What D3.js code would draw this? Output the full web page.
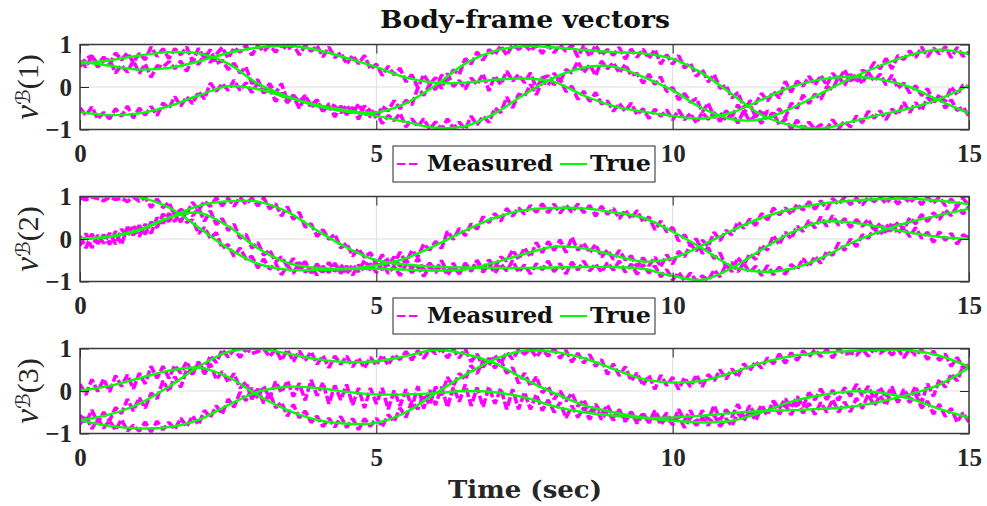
<!DOCTYPE html>
<html><head><meta charset="utf-8">
<script src="https://cdn.jsdelivr.net/npm/d3@7"></script>
<style>body{margin:0;background:#fff;} svg{display:block}</style>
</head><body>
<svg id="c" width="987" height="506"></svg>
<script>
// ---------------- data ----------------
const title = "Body-frame vectors";
const xLabel = "Time (sec)";
const yLabelIdx = ["(1)", "(2)", "(3)"];
const xTicks = [0, 5, 10, 15];
const yTicks = [-1, 0, 1];
const legendLabels = ["Measured", "True"];

// time of the smooth "True" samples (s)
const trueTime = [0,0.5,1,1.5,2,2.5,3,3.5,4,4.5,5,5.5,6,6.5,7,7.5,8,8.5,9,9.5,10,10.5,11,11.5,12,12.5,13,13.5,14,14.5,15];
// measured samples every 0.1 s from 0 to 15
const measTime = d3.range(151).map(i => i / 10);

// True, v^B(1)
const true1a = [.55,.63,.74,.82,.79,.55,.08,-.22,-.45,-.58,-.68,-.82,-.96,-.92,-.62,-.17,.22,.46,.48,.24,-.08,-.5,-.76,-.76,-.5,-.15,.2,.5,.75,.88,.77];
const true1b = [.6,.5,.41,.45,.6,.8,.93,.97,.87,.68,.47,.22,.1,.1,.17,.2,.12,-.2,-.45,-.58,-.68,-.74,-.6,-.3,0,.18,.24,.18,0,-.32,-.62];
const true1c = [-.59,-.66,-.62,-.45,-.2,.02,-.05,-.25,-.42,-.55,-.6,-.38,.04,.55,.85,.96,.93,.87,.82,.79,.66,.32,-.17,-.66,-.9,-.98,-.82,-.65,-.5,-.28,.04];
// True, v^B(2)
const true2a = [1,1,.98,.74,.27,-.22,-.58,-.72,-.73,-.71,-.7,-.72,-.74,-.72,-.55,-.35,-.18,-.22,-.38,-.53,-.45,-.15,.2,.5,.7,.83,.9,.94,.95,.9,.82];
const true2b = [.02,.05,.2,.5,.78,.89,.88,.64,.2,-.2,-.5,-.6,-.65,-.67,-.68,-.68,-.67,-.66,-.66,-.7,-.87,-.96,-.68,-.25,.15,.4,.39,.28,.15,.05,0];
const true2c = [0,.06,.22,.5,.62,.3,-.22,-.56,-.68,-.7,-.62,-.45,-.15,.2,.5,.68,.73,.72,.63,.5,.17,-.22,-.64,-.77,-.7,-.45,-.1,.18,.4,.56,.71];
// True, v^B(3)
const true3a = [-.69,-.55,-.3,.1,.57,.92,.99,.88,.75,.68,.7,.82,.97,.87,.65,.28,-.05,-.33,-.5,-.63,-.7,-.74,-.7,-.5,-.25,-.1,-.01,-.04,-.18,-.42,-.63];
const true3b = [.01,.12,.3,.48,.55,.33,-.1,-.45,-.68,-.77,-.75,-.5,-.05,.38,.75,.95,.92,.77,.52,.28,.2,.24,.43,.66,.82,.9,.94,.97,.96,.83,.57];
const true3c = [-.69,-.82,-.88,-.85,-.68,-.33,-.02,.1,.07,-.02,-.08,-.08,-.05,0,-.03,-.15,-.36,-.5,-.58,-.63,-.62,-.58,-.52,-.47,-.45,-.42,-.37,-.25,-.08,.15,.55];

// Measured, v^B(1)
const meas1a = [.62,.47,.72,.55,.70,.54,.80,.64,.80,.58,.79,.64,.94,.72,.90,.67,.90,.76,.94,.60,.91,.67,.88,.55,.63,.41,.56,.33,.47,.08,.17,-.13,.08,-.15,.08,-.32,-.20,-.50,-.22,-.43,-.30,-.57,-.45,-.70,-.45,-.65,-.48,-.76,-.44,-.71,-.59,-.86,-.67,-.79,-.62,-.94,-.75,-.93,-.75,-.99,-.82,-.99,-.75,-.97,-.83,-.99,-.69,-.89,-.69,-.83,-.50,-.60,-.24,-.49,-.17,-.22,.06,-.18,.13,.04,.32,.13,.41,.33,.60,.34,.53,.27,.61,.43,.57,.33,.53,.27,.32,.09,.30,.06,.24,-.11,-.01,-.30,-.15,-.36,-.27,-.59,-.38,-.72,-.61,-.78,-.62,-.85,-.56,-.81,-.66,-.86,-.56,-.69,-.51,-.72,-.38,-.50,-.19,-.39,-.17,-.29,.01,-.06,.25,.04,.30,.11,.39,.35,.58,.43,.67,.43,.74,.65,.85,.69,.94,.71,.92,.78,.95,.69,.93,.72,.82];
const meas1b = [.48,.67,.73,.47,.62,.64,.33,.51,.35,.62,.32,.54,.23,.50,.47,.60,.43,.61,.37,.66,.53,.78,.58,.77,.93,.68,.92,.82,.98,.75,.97,.84,.98,.82,.99,.88,.99,.76,.98,.84,.97,.71,.94,.69,.81,.54,.74,.55,.74,.42,.54,.27,.49,.29,.44,.12,.29,-.02,.29,.07,.22,-.04,.32,.01,.15,-.05,.21,.06,.31,-.09,.26,.06,.37,.14,.29,.10,.33,-.03,.22,.26,.05,.20,-.11,.02,-.29,-.10,-.34,-.13,-.40,-.33,-.57,-.39,-.57,-.38,-.65,-.51,-.74,-.52,-.69,-.54,-.77,-.54,-.77,-.62,-.85,-.60,-.76,-.60,-.81,-.56,-.70,-.42,-.65,-.33,-.39,-.15,-.33,-.11,-.26,.13,-.12,.14,.02,.25,.05,.27,.04,.32,.15,.40,.14,.30,.08,.35,.14,.30,.05,.28,-.03,.09,-.14,.03,-.20,-.04,-.35,-.22,-.50,-.30,-.55,-.47,-.69];
const meas1c = [-.49,-.67,-.47,-.75,-.60,-.75,-.51,-.69,-.45,-.73,-.50,-.66,-.46,-.67,-.38,-.50,-.23,-.45,-.23,-.39,-.11,-.28,.09,-.10,.08,-.08,.16,-.08,.10,-.13,.09,-.14,-.03,-.34,-.14,-.37,-.19,-.35,-.20,-.49,-.32,-.59,-.40,-.45,-.61,-.43,-.63,-.40,-.68,-.50,-.74,-.46,-.56,-.32,-.51,-.31,-.42,-.02,-.20,.06,-.06,.28,.15,.40,.30,.67,.54,.82,.63,.88,.76,.97,.75,.99,.89,.99,.85,.98,.79,.99,.81,.99,.84,.99,.71,.97,.72,.98,.75,.88,.75,.93,.66,.89,.70,.89,.67,.88,.54,.76,.54,.74,.45,.56,.25,.41,.12,.29,-.03,.04,-.26,-.13,-.47,-.39,-.71,-.54,-.78,-.61,-.89,-.75,-.98,-.78,-.99,-.83,-.99,-.89,-.99,-.77,-.97,-.81,-.94,-.68,-.84,-.57,-.73,-.56,-.77,-.52,-.65,-.36,-.60,-.37,-.55,-.25,-.39,-.18,-.34,.00,-.18,.05,-.01];
// Measured, v^B(2)
const meas2a = [.97,.92,.99,.95,.90,.98,.93,.96,.88,.99,.89,.98,.74,.94,.74,.86,.55,.70,.39,.45,.13,.27,.02,.15,-.22,-.13,-.41,-.21,-.47,-.41,-.68,-.47,-.71,-.57,-.84,-.62,-.81,-.55,-.78,-.66,-.85,-.64,-.79,-.57,-.81,-.64,-.85,-.61,-.75,-.58,-.79,-.55,-.81,-.64,-.86,-.60,-.79,-.64,-.88,-.64,-.79,-.60,-.85,-.66,-.81,-.62,-.76,-.50,-.72,-.49,-.67,-.42,-.52,-.26,-.48,-.21,-.42,-.08,-.32,-.06,-.27,-.02,-.32,.04,-.26,-.10,-.32,-.13,-.42,-.26,-.48,-.27,-.49,-.40,-.65,-.44,-.63,-.43,-.65,-.37,-.59,-.29,-.42,-.12,-.28,-.03,-.17,.16,-.04,.20,.10,.40,.25,.47,.32,.60,.45,.73,.57,.73,.58,.82,.68,.88,.70,.90,.70,.95,.82,.98,.81,.96,.80,.98,.88,.98,.84,.99,.82,.98,.86,.98,.81,.99,.84,.99,.78,.94,.76,.96,.77];
const meas2b = [-.15,.13,-.21,.09,-.10,.14,-.12,.23,.07,.32,.06,.35,.13,.50,.37,.60,.41,.70,.60,.86,.68,.89,.77,.97,.78,.96,.77,.98,.82,.96,.78,.97,.71,.83,.54,.76,.46,.63,.28,.36,.06,.22,-.01,.11,-.21,-.10,-.40,-.23,-.43,-.32,-.60,-.37,-.63,-.42,-.65,-.48,-.70,-.45,-.73,-.57,-.74,-.51,-.78,-.57,-.82,-.57,-.74,-.52,-.78,-.59,-.80,-.59,-.75,-.51,-.78,-.61,-.82,-.58,-.72,-.52,-.77,-.58,-.82,-.54,-.73,-.52,-.75,-.59,-.78,-.56,-.73,-.52,-.78,-.59,-.83,-.60,-.80,-.63,-.89,-.72,-.96,-.79,-.98,-.80,-.99,-.87,-.97,-.73,-.89,-.60,-.77,-.44,-.61,-.35,-.48,-.15,-.26,.08,-.13,.16,.01,.30,.18,.44,.26,.52,.30,.55,.32,.48,.27,.46,.30,.46,.20,.37,.13,.38,.13,.28,.05,.27,.02,.16,-.08,.17,-.03,.13,-.12,.10,.03];
const meas2c = [.07,-.21,.12,-.11,.10,-.13,.18,-.13,.28,.09,.32,.11,.40,.27,.59,.41,.64,.40,.66,.55,.72,.42,.66,.34,.48,.20,.35,.02,.11,-.21,-.08,-.38,-.26,-.54,-.42,-.65,-.46,-.68,-.53,-.80,-.59,-.78,-.55,-.76,-.60,-.82,-.61,-.77,-.50,-.73,-.52,-.73,-.46,-.59,-.31,-.55,-.27,-.42,-.12,-.26,-.06,-.22,.18,-.01,.25,.08,.36,.23,.52,.39,.60,.42,.72,.54,.73,.59,.79,.63,.83,.62,.82,.61,.80,.63,.82,.62,.79,.54,.77,.58,.72,.48,.68,.48,.67,.40,.52,.22,.42,.17,.27,-.05,.10,-.15,.01,-.34,-.20,-.46,-.33,-.65,-.55,-.77,-.57,-.79,-.64,-.86,-.62,-.84,-.66,-.83,-.60,-.72,-.46,-.65,-.41,-.57,-.29,-.38,-.09,-.27,.00,-.18,.10,.02,.24,.09,.34,.17,.40,.22,.50,.36,.58,.41,.62,.46,.68,.55,.77,.59,.76];
// Measured, v^B(3)
const meas3a = [-.57,-.75,-.45,-.75,-.50,-.70,-.39,-.53,-.19,-.47,-.16,-.40,-.05,-.18,.24,-.01,.34,.09,.50,.40,.66,.47,.83,.67,.97,.80,.98,.79,.99,.88,.93,.99,.81,.98,.72,.97,.70,.94,.72,.92,.63,.83,.55,.82,.63,.82,.57,.77,.54,.79,.61,.84,.61,.85,.74,.93,.73,.95,.77,.99,.88,.99,.78,.98,.78,.99,.69,.87,.56,.77,.54,.73,.42,.55,.18,.42,.12,.33,-.04,.10,-.19,.00,-.24,-.05,-.36,-.21,-.51,-.31,-.54,-.33,-.62,-.44,-.72,-.50,-.71,-.52,-.73,-.52,-.79,-.61,-.79,-.59,-.86,-.63,-.81,-.63,-.81,-.57,-.83,-.65,-.82,-.52,-.70,-.47,-.69,-.41,-.56,-.23,-.41,-.18,-.39,-.13,-.37,-.04,-.21,.05,-.20,.02,-.22,.08,-.12,.16,-.11,.11,-.18,.08,-.15,.10,-.26,-.06,-.27,-.08,-.40,-.24,-.54,-.31,-.60,-.41,-.73,-.51,-.73];
const meas3b = [.16,-.09,.27,-.01,.28,-.02,.36,.11,.38,.05,.42,.17,.58,.30,.58,.30,.60,.42,.69,.40,.69,.40,.64,.27,.46,.21,.41,.07,.21,-.19,.05,-.29,-.04,-.39,-.27,-.59,-.32,-.63,-.47,-.74,-.59,-.84,-.64,-.85,-.60,-.86,-.65,-.91,-.65,-.83,-.64,-.84,-.56,-.72,-.40,-.62,-.24,-.43,-.09,-.32,.10,-.10,.32,.12,.41,.27,.60,.41,.71,.60,.84,.65,.91,.75,.97,.87,.99,.80,.98,.82,.99,.77,.96,.68,.89,.66,.86,.58,.74,.39,.64,.36,.57,.24,.42,.13,.37,.04,.37,.13,.32,.04,.31,.10,.38,.10,.39,.24,.50,.28,.52,.33,.64,.48,.69,.54,.78,.64,.87,.65,.90,.72,.94,.80,.97,.81,.98,.78,.99,.86,.90,.84,.99,.82,.99,.89,.99,.85,.99,.78,.99,.84,.97,.74,.94,.72,.87,.58,.79,.54,.63];
const meas3c = [-.78,-.58,-.89,-.66,-.87,-.70,-.92,-.67,-.94,-.81,-.94,-.73,-.96,-.71,-.91,-.74,-.90,-.64,-.84,-.59,-.79,-.46,-.62,-.35,-.54,-.19,-.38,-.03,-.23,.07,-.17,.12,-.18,.22,-.03,.24,-.13,.18,-.22,.26,-.11,.20,-.30,.13,-.21,.15,-.33,.07,-.40,.07,-.30,.07,-.43,.01,-.35,.04,-.40,.11,-.41,.02,-.33,.10,-.38,.09,-.25,.15,-.35,.08,-.37,.10,-.30,.06,-.43,.04,-.43,-.03,-.43,-.08,-.46,-.21,-.50,-.27,-.63,-.35,-.62,-.39,-.67,-.39,-.67,-.47,-.69,-.44,-.68,-.49,-.76,-.54,-.75,-.46,-.71,-.52,-.76,-.43,-.69,-.46,-.76,-.46,-.68,-.34,-.68,-.44,-.61,-.31,-.62,-.34,-.59,-.33,-.56,-.25,-.54,-.33,-.56,-.27,-.52,-.29,-.55,-.27,-.50,-.20,-.50,-.26,-.49,-.17,-.41,-.08,-.35,-.11,-.33,.02,-.27,.04,-.17,.11,-.27,.17,-.12,.27,.09,.40,.24,.58,.52];

// ---------------- drawing ----------------
const svg = d3.select("#c");
svg.append("rect").attr("width", 987).attr("height", 506).attr("fill", "#fff");

const plotLeft = 80, plotRight = 969, plotH = 85;
const tops = [44.5, 196.5, 348.5];
const x = d3.scaleLinear().domain([0, 15]).range([plotLeft, plotRight]);

const panels = [
  {top: tops[0], trueS: [true1a, true1b, true1c], measS: [meas1a, meas1b, meas1c], idx: yLabelIdx[0], legend: true},
  {top: tops[1], trueS: [true2a, true2b, true2c], measS: [meas2a, meas2b, meas2c], idx: yLabelIdx[1], legend: true},
  {top: tops[2], trueS: [true3a, true3b, true3c], measS: [meas3a, meas3b, meas3c], idx: yLabelIdx[2], legend: false}
];

const MAG = "#ff00ff", GRN = "#00ff00", AX = "#262626";
const tickFont = "'Liberation Serif', 'Times New Roman', serif";
const boldSerif = "'DejaVu Serif', serif";

panels.forEach((p, k) => {
  const y = d3.scaleLinear().domain([-1, 1]).range([p.top + plotH, p.top]);
  const g = svg.append("g");

  // grid
  g.append("g").selectAll("line").data(xTicks.filter(t => t > 0 && t < 15)).join("line")
    .attr("x1", d => x(d)).attr("x2", d => x(d)).attr("y1", p.top).attr("y2", p.top + plotH)
    .attr("stroke", "#dedede").attr("stroke-width", 1);
  g.append("g").selectAll("line").data(yTicks.filter(t => t === 0)).join("line")
    .attr("x1", plotLeft).attr("x2", plotRight).attr("y1", d => y(d)).attr("y2", d => y(d))
    .attr("stroke", "#dedede").attr("stroke-width", 1);

  // clip
  const cid = "clip" + k;
  svg.append("clipPath").attr("id", cid).append("rect")
    .attr("x", plotLeft).attr("y", p.top).attr("width", plotRight - plotLeft).attr("height", plotH);
  const data = g.append("g").attr("clip-path", `url(#${cid})`);

  const measLine = d3.line().x(d => x(d[0])).y(d => y(d[1]));
  p.measS.forEach(arr => {
    data.append("path").datum(measTime.map((t, i) => [t, arr[i]]).filter(d => d[1] !== undefined))
      .attr("d", measLine).attr("fill", "none").attr("stroke", MAG)
      .attr("stroke-width", 3.6).attr("stroke-dasharray", "9,2.5")
      .attr("stroke-linejoin", "bevel").attr("stroke-linecap", "butt");
  });
  const trueLine = d3.line().x(d => x(d[0])).y(d => y(d[1])).curve(d3.curveCatmullRom.alpha(0.5));
  p.trueS.forEach(arr => {
    data.append("path").datum(trueTime.map((t, i) => [t, arr[i]]))
      .attr("d", trueLine).attr("fill", "none").attr("stroke", GRN).attr("stroke-width", 2.4);
  });

  // axes
  const axB = g.append("g").attr("transform", `translate(0,${p.top + plotH})`)
    .call(d3.axisBottom(x).tickValues(xTicks).tickSizeInner(-9).tickSizeOuter(0).tickPadding(15).tickFormat(d3.format("d")));
  const axT = g.append("g").attr("transform", `translate(0,${p.top})`)
    .call(d3.axisTop(x).tickValues(xTicks).tickSizeInner(-9).tickSizeOuter(0).tickFormat(""));
  const axL = g.append("g").attr("transform", `translate(${plotLeft},0)`)
    .call(d3.axisLeft(y).tickValues(yTicks).tickSizeInner(-9).tickSizeOuter(0).tickPadding(8).tickFormat(d3.format("d")));
  const axR = g.append("g").attr("transform", `translate(${plotRight},0)`)
    .call(d3.axisRight(y).tickValues(yTicks).tickSizeInner(-9).tickSizeOuter(0).tickFormat(""));
  [axB, axT, axL, axR].forEach(a => {
    a.select(".domain").remove();
    a.selectAll(".tick line").attr("stroke", AX).attr("stroke-width", 1);
    a.selectAll("text").attr("font-family", tickFont).attr("font-weight", "bold")
      .attr("font-size", 25).attr("fill", AX);
  });

  // box
  g.append("rect").attr("x", plotLeft).attr("y", p.top).attr("width", plotRight - plotLeft).attr("height", plotH)
    .attr("fill", "none").attr("stroke", "#3a3a3a").attr("stroke-width", 1.5);

  // y label
  const yl = svg.append("text").attr("transform", `translate(38,${p.top + plotH / 2}) rotate(-90)`)
    .attr("text-anchor", "middle").attr("fill", AX);
  yl.append("tspan").attr("font-family", tickFont).attr("font-style", "italic").attr("font-size", 33).text("v");
  yl.append("tspan").attr("font-family", "'DejaVu Serif','DejaVu Sans',serif").attr("font-size", 20).attr("dy", -8).text("\u212C");
  yl.append("tspan").attr("font-family", tickFont).attr("font-size", 30).attr("dy", 8).text(p.idx);

  // legend
  if (p.legend) {
    const ly = p.top + plotH + 16.5;
    const lg = svg.append("g");
    lg.append("rect").attr("x", 393).attr("y", ly).attr("width", 262).attr("height", 36)
      .attr("fill", "#fff").attr("stroke", AX).attr("stroke-width", 1);
    lg.append("line").attr("x1", 397).attr("x2", 420).attr("y1", ly + 18).attr("y2", ly + 18)
      .attr("stroke", MAG).attr("stroke-width", 2).attr("stroke-dasharray", "8.5,3.5");
    lg.append("text").attr("x", 427).attr("y", ly + 25).attr("font-family", boldSerif).attr("font-weight", "bold")
      .attr("font-size", 22).attr("textLength", 126).attr("lengthAdjust", "spacingAndGlyphs").attr("fill", "#111").text(legendLabels[0]);
    lg.append("line").attr("x1", 560).attr("x2", 587).attr("y1", ly + 18).attr("y2", ly + 18)
      .attr("stroke", GRN).attr("stroke-width", 2);
    lg.append("text").attr("x", 590).attr("y", ly + 25).attr("font-family", boldSerif).attr("font-weight", "bold")
      .attr("font-size", 22).attr("textLength", 61).attr("lengthAdjust", "spacingAndGlyphs").attr("fill", "#111").text(legendLabels[1]);
  }
});

// title & x label
svg.append("text").attr("x", 525).attr("y", 28).attr("text-anchor", "middle")
  .attr("font-family", boldSerif).attr("font-weight", "bold").attr("font-size", 25)
  .attr("textLength", 290).attr("lengthAdjust", "spacingAndGlyphs").attr("fill", "#111").text(title);
svg.append("text").attr("x", 525).attr("y", 498).attr("text-anchor", "middle")
  .attr("font-family", boldSerif).attr("font-weight", "bold").attr("font-size", 25)
  .attr("textLength", 154).attr("lengthAdjust", "spacingAndGlyphs").attr("fill", AX).text(xLabel);
</script>
</body></html>
